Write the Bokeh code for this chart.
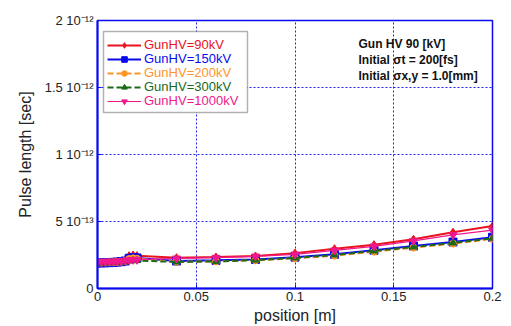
from bokeh.plotting import figure
from bokeh.models import Range1d, Legend, LegendItem, Label, FixedTicker, BoxAnnotation
from bokeh.embed import file_html
from bokeh.resources import INLINE

# ---- data (pulse length in units of 1e-13 s) ----
position = [0, 0.002, 0.004, 0.006, 0.008, 0.010, 0.012, 0.014, 0.016, 0.018, 0.020,
            0.04, 0.06, 0.08, 0.10, 0.12, 0.14, 0.16, 0.18, 0.20]
pulse_90kV = [1.95, 1.96, 1.97, 1.98, 2.00, 2.02, 2.05, 2.10, 2.45, 2.50, 2.45,
              2.30, 2.35, 2.42, 2.64, 2.97, 3.27, 3.67, 4.20, 4.66]
pulse_150kV = [1.90, 1.91, 1.92, 1.93, 1.95, 1.97, 2.00, 2.05, 2.25, 2.30, 2.28,
               2.05, 2.10, 2.17, 2.34, 2.55, 2.85, 3.17, 3.47, 3.82]
pulse_200kV = [1.92, 1.93, 1.94, 1.95, 1.96, 1.98, 2.00, 2.05, 2.20, 2.25, 2.22,
               2.00, 2.02, 2.10, 2.25, 2.45, 2.75, 3.05, 3.35, 3.70]
pulse_300kV = [1.88, 1.89, 1.90, 1.91, 1.92, 1.94, 1.96, 1.99, 2.05, 2.08, 2.08,
               1.98, 2.02, 2.12, 2.28, 2.50, 2.80, 3.10, 3.40, 3.75]
pulse_1000kV = [2.00, 2.00, 2.01, 2.01, 2.02, 2.03, 2.05, 2.08, 2.12, 2.15, 2.15,
                2.25, 2.30, 2.40, 2.55, 2.85, 3.15, 3.55, 4.00, 4.35]
series_labels = ["GunHV=90kV", "GunHV=150kV", "GunHV=200kV", "GunHV=300kV", "GunHV=1000kV"]

x_ticks = [0, 0.05, 0.1, 0.15, 0.2]
x_tick_labels = ["0", "0.05", "0.1", "0.15", "0.2"]
y_ticks = [0, 5, 10, 15, 20]
y_tick_labels = ["0", "5 10\u207b\u00b9\u00b3", "1 10\u207b\u00b9\u00b2",
                 "1.5 10\u207b\u00b9\u00b2", "2 10\u207b\u00b9\u00b2"]
info_lines = ["Gun HV 90 [kV]", "Initial \u03c3t = 200[fs]", "Initial \u03c3x,y = 1.0[mm]"]

FONT = "Liberation Sans"
BLUE_AX = "#0a0aee"
TXT = "#222222"

p = figure(width=503, height=326, output_backend="svg", toolbar_location=None,
           x_range=Range1d(0, 0.2), y_range=Range1d(0, 20),
           min_border_left=97, min_border_top=20, min_border_right=11, min_border_bottom=38)
p.background_fill_color = "white"
p.border_fill_color = "white"
p.outline_line_color = BLUE_AX
p.outline_line_width = 1.5

# grid
for g in (p.xgrid, p.ygrid):
    g.grid_line_color = BLUE_AX
    g.grid_line_dash = "2 2"
    g.grid_line_width = 1
    g.grid_line_alpha = 0.9
p.xgrid.ticker = FixedTicker(ticks=x_ticks)
p.ygrid.ticker = FixedTicker(ticks=y_ticks)

# axes
p.xaxis.ticker = FixedTicker(ticks=x_ticks)
p.xaxis.major_label_overrides = {t: l for t, l in zip(x_ticks, x_tick_labels)}
p.yaxis.ticker = FixedTicker(ticks=y_ticks)
p.yaxis.major_label_overrides = {t: l for t, l in zip(y_ticks, y_tick_labels)}
for ax in (p.xaxis, p.yaxis):
    ax.axis_line_color = BLUE_AX
    ax.axis_line_width = 2
    ax.major_tick_line_color = BLUE_AX
    ax.major_tick_in = 4
    ax.major_tick_out = 0
    ax.minor_tick_line_color = None
    ax.major_label_text_font = FONT
    ax.major_label_text_font_size = "13px"
    ax.major_label_text_color = TXT
    ax.axis_label_text_font = FONT
    ax.axis_label_text_font_size = "16px"
    ax.axis_label_text_font_style = "normal"
    ax.axis_label_text_color = TXT
p.xaxis.major_label_standoff = 3
p.xaxis.axis_label = "position [m]"
p.xaxis.axis_label_standoff = 3
p.yaxis.major_label_standoff = 4
p.yaxis.axis_label = "Pulse length [sec]"
p.yaxis.axis_label_standoff = 8

# legend frame (white box over the grid, under the data)
p.add_layout(BoxAnnotation(left=6, right=150, bottom=176, top=257,
                           left_units="screen", right_units="screen",
                           bottom_units="screen", top_units="screen",
                           fill_color="white", fill_alpha=1,
                           line_color="black", line_width=1.5, level="underlay"))

# series
colors = ["#e8141e", "#0a0aee", "#ff9428", "#1a6a1a", "#f0188c"]
dashes = ["solid", "solid", "6 3", "6 3", "solid"]
widths = [2, 2, 2, 2, 1.2]
markers = ["diamond", "square", "circle", "triangle", "inverted_triangle"]
msizes = [8, 8, 7, 7, 8]
data = [pulse_90kV, pulse_150kV, pulse_200kV, pulse_300kV, pulse_1000kV]

common = dict(padding=6, spacing=0, margin=0, label_height=14, glyph_height=14,
              glyph_width=34, label_standoff=3, label_text_font=FONT,
              label_text_font_size="13px", border_line_color=None,
              background_fill_alpha=0)

for i, (ys, c, d, w, m, ms, lab) in enumerate(
        zip(data, colors, dashes, widths, markers, msizes, series_labels)):
    lr = p.line(position, ys, line_color=c, line_width=w, line_dash=d)
    sr = p.scatter(position, ys, marker=m, size=ms, fill_color=c, line_color=c)
    lg = Legend(items=[LegendItem(label=lab, renderers=[lr, sr])],
                location=(10, 236 - 14 * i), label_text_color=c, **common)
    p.add_layout(lg)

info_y = [245, 229, 213]
for t, yy in zip(info_lines, info_y):
    p.add_layout(Label(x=261, y=yy, x_units="screen", y_units="screen", text=t,
                       text_align="left", text_baseline="middle",
                       text_font=FONT, text_font_size="12px", text_font_style="bold",
                       text_color="#111111"))

open("out.html", "w").write(file_html(p, INLINE))
